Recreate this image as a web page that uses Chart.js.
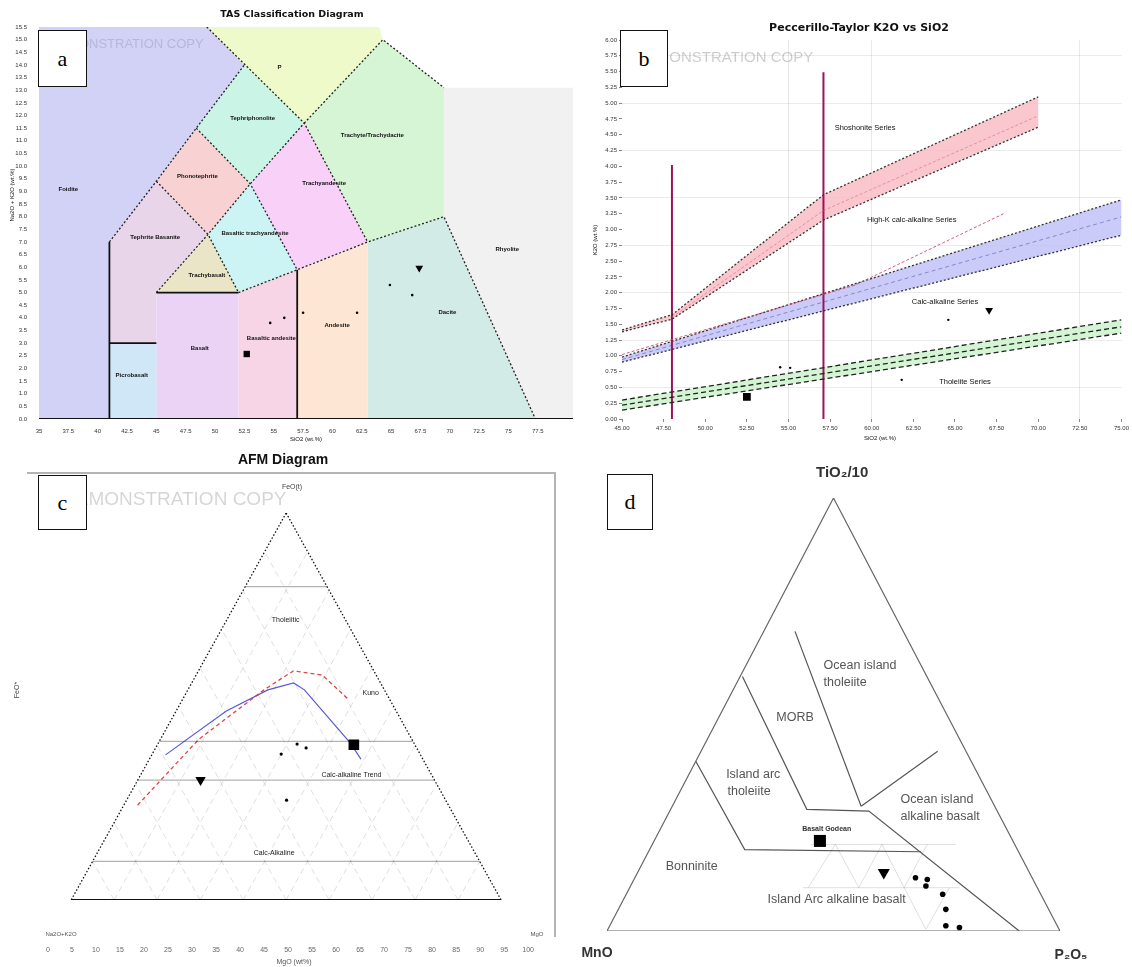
<!DOCTYPE html>
<html>
<head>
<meta charset="utf-8">
<script src="https://cdn.jsdelivr.net/npm/chart.js@4.4.1/dist/chart.umd.min.js"></script>
<style>
  body { margin: 0; background: #fff; }
  #wrap { position: relative; width: 1132px; height: 967px; overflow: hidden; background: #fff; }
  canvas { position: absolute; }
  .tag { position: absolute; box-sizing: border-box; background: #fff; border: 1.5px solid #111;
         font: 22px "Liberation Serif", "DejaVu Serif", serif; display: flex; align-items: center; justify-content: center; }
</style>
</head>
<body>
<div id="wrap">
  <canvas id="tas" width="580" height="445" style="left:0;top:0"></canvas>
  <canvas id="pec" width="552" height="445" style="left:580px;top:0"></canvas>
  <canvas id="afm" width="580" height="522" style="left:0;top:445px"></canvas>
  <canvas id="tmp" width="552" height="522" style="left:580px;top:445px"></canvas>
  <div class="tag" style="left:38px;top:30px;width:49px;height:57px">a</div>
  <div class="tag" style="left:620px;top:30px;width:48px;height:57px">b</div>
  <div class="tag" style="left:38px;top:475px;width:49px;height:55px">c</div>
  <div class="tag" style="left:607px;top:474px;width:46px;height:56px">d</div>
</div>
<script>
Chart.defaults.font.family = '"Liberation Sans", Arial, sans-serif';
Chart.defaults.color = '#333';

// ---------- a: TAS (SiO2, Na2O+K2O) ----------
const tasFoidite = [[35,0],[35,15.5],[49.3,15.5],[52.5,14],[48.4,11.5],[45,9.4],[41,7],[41,0]];
const tasPhonolite = [[49.3,15.5],[64,15.5],[64.3,15],[57.6,11.7],[52.5,14]];
const tasTephriphonolite = [[48.4,11.5],[52.5,14],[57.6,11.7],[53,9.3]];
const tasPhonotephrite = [[45,9.4],[48.4,11.5],[53,9.3],[49.4,7.3]];
const tasTephrite = [[41,3],[41,7],[45,9.4],[49.4,7.3],[45,5],[45,3]];
const tasPicrobasalt = [[41,0],[41,3],[45,3],[45,0]];
const tasBasalt = [[45,0],[45,5],[52,5],[52,0]];
const tasTrachybasalt = [[45,5],[49.4,7.3],[52,5]];
const tasBasTrachyandesite = [[52,5],[49.4,7.3],[53,9.3],[57,5.9]];
const tasTrachyandesite = [[57,5.9],[53,9.3],[57.6,11.7],[63,7]];
const tasTrachyte = [[57.6,11.7],[64.3,15],[69.5,13.1],[69.5,8],[63,7]];
const tasBasAndesite = [[52,0],[52,5],[57,5.9],[57,0]];
const tasAndesite = [[57,0],[57,5.9],[63,7],[63,0]];
const tasDacite = [[63,0],[63,7],[69.5,8],[77.3,0]];
const tasRhyolite = [[69.5,13.1],[80.5,13.1],[80.5,0],[77.3,0],[69.5,8]];

const tasSolid = [[[41,0],[41,7]], [[41,3],[45,3]], [[45,5],[52,5]], [[57,0],[57,5.9]], [[35,0],[80.5,0]]];
const tasDashed = [
  [[41,7],[45,9.4],[48.4,11.5],[52.5,14]],
  [[49.3,15.5],[57.6,11.7],[63,7]],
  [[57.6,11.7],[64.3,15],[69.5,13.1]],
  [[45,9.4],[49.4,7.3],[52,5]],
  [[45,5],[49.4,7.3],[53,9.3],[57.6,11.7]],
  [[48.4,11.5],[53,9.3],[57,5.9]],
  [[52,5],[57,5.9],[63,7],[69.5,8],[77.3,0]]
];
const tasSquare = [[52.7,2.57]];
const tasTriangle = [[67.4,5.97]];
const tasDots = [[64.9,5.3],[66.8,4.9],[62.1,4.2],[57.5,4.2],[55.9,4.0],[54.7,3.8]];
const tasLabels = [
  ['Foidite',37.5,9.1], ['Phonotephrite',48.5,9.6], ['Tephriphonolite',53.2,11.9], ['P',55.5,13.9],
  ['Trachyte/Trachydacite',63.4,11.2], ['Trachyandesite',59.3,9.3], ['Basaltic trachyandesite',53.4,7.35],
  ['Tephrite Basanite',44.9,7.2], ['Trachybasalt',49.3,5.7], ['Basalt',48.7,2.8], ['Picrobasalt',42.9,1.74],
  ['Basaltic andesite',54.8,3.2], ['Andesite',60.4,3.7], ['Dacite',69.8,4.2], ['Rhyolite',74.9,6.7]
];

// ---------- b: Peccerillo-Taylor (SiO2, K2O) ----------
const pecPinkUpper = [[45,1.41],[48,1.65],[57.1,3.55],[70,5.1]];
const pecPinkLower = [[45,1.38],[48,1.58],[57.1,3.15],[70,4.62]];
const pecPinkThin = [[48,1.61],[57.1,3.3],[70,4.8]];
const pecRedDash = [[45,1.02],[59,2.12],[68,3.26]];
const pecBlueUpper = [[45,0.98],[75,3.47]];
const pecBlueMid = [[45,0.94],[75,3.2]];
const pecBlueLower = [[45,0.90],[75,2.91]];
const pecGreenUpper = [[45,0.30],[75,1.57]];
const pecGreenMid = [[45,0.22],[75,1.46]];
const pecGreenLower = [[45,0.14],[75,1.36]];
const pecVerticals = [[[48,0],[48,4.02]], [[57.1,0],[57.1,5.49]]];
const pecSquare = [[52.5,0.35]];
const pecTriangle = [[67.05,1.72]];
const pecDots = [[54.5,0.82],[55.1,0.81],[61.8,0.62],[64.6,1.57]];
const pecGridX = [55, 60, 72.5];
const pecGridY = [0.5, 1.25, 2, 2.75, 3.5, 4.25, 5, 5.75];
const pecLabels = [
  ['Shoshonite Series',59.6,4.6], ['High-K calc-alkaline Series',62.4,3.15],
  ['Calc-alkaline Series',64.4,1.85], ['Tholeiite Series',65.6,0.59]
];

// ---------- c: AFM, compositions as [F, A, M] ----------
const afmGuides = [81, 41, 31, 10];
const afmRed = [[24.5,72.3,3.2],[41.5,49.6,8.9],[54.3,28,17.7],[59.2,18.7,22.1],[58.1,12.5,29.4],[51.9,9.6,38.5]];
const afmBlue = [[37.5,59.3,3.2],[48.8,39.6,11.6],[54.3,27.1,18.6],[56.1,20.2,23.7],[54.3,18.6,27.1],[40.6,14.8,44.6],[36.4,14.4,49.2]];
const afmSquare = [[40.1,14.2,45.7]];
const afmTriangle = [[31.0,54.4,14.6]];
const afmDots = [[37.7,32.3,30.0],[40.3,27.3,32.4],[39.3,25.7,35.0],[25.8,37.0,37.2]];
const afmLabels = [['Tholeiitic',49.5,72.4], ['Calc-alkaline Trend',63.2,32.3], ['Calc-Alkaline',47.1,12.1], ['Kuno',67.2,53.5]];

// ---------- d: TiO2/10 - MnO - P2O5, compositions as [Ti, Mn, P] ----------
const tmpBoninite = [[39.2,60.8,0],[18.8,60.2,21.0],[18.3,21.55,60.15]];
const tmpArcMorb = [[58.8,40.7,0.5],[28.1,41.85,30.05],[27.7,28.35,43.95],[0,9,91]];
const tmpMorbOit = [[69.2,23.9,6.9],[28.8,29.5,41.7]];
const tmpOitOia = [[28.8,29.5,41.7],[41.5,6.25,52.25]];
const tmpGrid = [
  [[20,45,35],[20,13,67]], [[10,51.7,38.3],[10,17.2,72.8]],
  [[10,50.6,39.4],[20,39.6,40.4],[10,39.4,50.6],[20,29.3,50.7],[10,29.4,60.6],[20,19.3,60.7]],
  [[10,29.4,60.6],[0.4,29.4,70.2],[10,19.4,70.6]]
];
const tmpSquare = [[20.8,42.6,36.6]];
const tmpTriangle = [[13.5,32.15,54.35]];
const tmpDots = [[12.3,25.75,61.95],[11.9,23.35,64.75],[10.4,24.4,65.2],[8.5,21.65,69.85],[5.0,22.7,72.3],[1.2,24.6,74.2],[0.8,21.8,77.4]];
const tmpLabels = [
  ['Ocean island',47.8,61.2,'l'], ['tholeiite',47.8,57.3,'l'], ['MORB',41.5,49.2,'c'],
  ['Island arc',26.3,36.2,'l'], ['tholeiite',26.6,32.3,'l'], ['Ocean island',64.8,30.4,'l'],
  ['alkaline basalt',64.8,26.5,'l'], ['Bonninite',18.7,15.0,'c'], ['Island Arc alkaline basalt',50.7,7.3,'c']
];

// ---------- helpers ----------
const xy = pts => pts.map(([x, y]) => ({x, y}));
const afmXY = ([F, A, M]) => [4.83 + 89.54 * (M + F / 2) / 100, F];
const tmpXY = ([T, Mn, P]) => [P + T / 2, T];

function poly(pts, color) {
  return {data: xy([...pts, pts[0]]), showLine: true, fill: 'shape', backgroundColor: color,
          borderWidth: 0, borderColor: 'rgba(0,0,0,0)', pointRadius: 0, order: 3};
}
function seg(pts, color, width, dash) {
  return {data: xy(pts), showLine: true, fill: false, borderColor: color, borderWidth: width,
          borderDash: dash || [], pointRadius: 0, order: 2};
}
function marks(pts, style, r, rot) {
  return {data: xy(pts), showLine: false, pointStyle: style, pointRadius: r, pointRotation: rot || 0,
          pointBackgroundColor: '#000', pointBorderColor: '#000', pointBorderWidth: 0, order: 1};
}

const panelText = {};

const textPlugin = {
  id: 'panelText',
  afterDraw(chart) {
    const items = panelText[chart.canvas.id] || [];
    const ctx = chart.ctx, sx = chart.scales.x, sy = chart.scales.y;
    ctx.save();
    if (chart.canvas.id === 'afm') {
      ctx.strokeStyle = '#b4b4b4';
      ctx.lineWidth = 2;
      ctx.beginPath();
      ctx.moveTo(27, 28); ctx.lineTo(555, 28); ctx.lineTo(555, 492);
      ctx.stroke();
    }
    for (const it of items) {
      const px = it.px !== undefined ? it.px : sx.getPixelForValue(it.x);
      const py = it.py !== undefined ? it.py : sy.getPixelForValue(it.y);
      ctx.save();
      ctx.font = it.font || '6px "Liberation Sans"';
      ctx.fillStyle = it.color || '#111';
      ctx.textAlign = it.align || 'center';
      ctx.textBaseline = 'middle';
      ctx.translate(px, py);
      if (it.rot) ctx.rotate(it.rot);
      ctx.fillText(it.text, 0, 0);
      ctx.restore();
    }
    ctx.restore();
  }
};

function baseOptions(padding) {
  return {
    responsive: false, animation: false, events: [],
    layout: {padding},
    plugins: {legend: {display: false}, tooltip: {enabled: false}, title: {display: false}}
  };
}

// ---------- chart a ----------
const tasRegions = [
  [tasFoidite,'#d2d2f7'], [tasPhonolite,'#eefac9'], [tasTephriphonolite,'#c9f4e6'], [tasPhonotephrite,'#f8d2d2'],
  [tasTephrite,'#e9d5ea'], [tasPicrobasalt,'#cfe7f7'], [tasBasalt,'#ebd3f5'], [tasTrachybasalt,'#e9e5c6'],
  [tasBasTrachyandesite,'#cdf4f4'], [tasTrachyandesite,'#f8d0f8'], [tasTrachyte,'#d5f5d5'], [tasBasAndesite,'#f8d5e6'],
  [tasAndesite,'#fde6d3'], [tasDacite,'#d3ebe6'], [tasRhyolite,'#f1f1f1']
];
panelText.tas = [
  {text: 'TAS Classification Diagram', px: 292, py: 15, font: 'bold 9.5px "DejaVu Sans"'},
  {text: 'DEMONSTRATION COPY', px: 50, py: 44, align: 'left', font: '13px "Liberation Sans"', color: 'rgba(110,110,150,0.28)'},
  {text: 'Na2O + K2O (wt.%)', px: 12, py: 195, rot: -Math.PI / 2, font: '6px "Liberation Sans"'},
  {text: 'SiO2 (wt.%)', px: 306, py: 439, font: '6px "Liberation Sans"'},
  ...tasLabels.map(([t, x, y]) => ({text: t, x, y, font: 'bold 6px "Liberation Sans"'}))
];
new Chart(document.getElementById('tas'), {
  type: 'scatter',
  data: {datasets: [
    ...tasRegions.map(([p, c]) => poly(p, c)),
    ...tasSolid.map(s => seg(s, '#111', 1.8)),
    ...tasDashed.map(s => seg(s, '#222', 1.3, [2, 2])),
    marks(tasSquare, 'rect', 4.5), marks(tasTriangle, 'triangle', 4.5, 180), marks(tasDots, 'circle', 1.3)
  ]},
  options: {
    ...baseOptions({left: 0, right: 7, top: 27, bottom: 0}),
    scales: {
      x: {type: 'linear', min: 35, max: 80.5, grid: {display: false}, border: {display: false},
          afterBuildTicks: s => { s.ticks = s.ticks.filter(t => t.value % 2.5 === 0); },
          afterFit: s => { s.height = 26; },
          ticks: {stepSize: 2.5, autoSkip: false, maxRotation: 0, font: {size: 6}, padding: 1}},
      y: {type: 'linear', min: 0, max: 15.5, grid: {display: false}, border: {display: false},
          afterFit: s => { s.width = 39; },
          ticks: {stepSize: 0.5, autoSkip: false, font: {size: 6}, padding: 4, callback: v => v.toFixed(1)}}
    }
  },
  plugins: [textPlugin]
});

// ---------- chart b ----------
panelText.pec = [
  {text: 'Peccerillo-Taylor K2O vs SiO2', px: 279, py: 28, font: 'bold 11px "DejaVu Sans"'},
  {text: 'DEMONSTRATION COPY', px: 56, py: 58, align: 'left', font: '15px "Liberation Sans"', color: 'rgba(0,0,0,0.2)'},
  {text: 'K2O (wt.%)', px: 15, py: 240, rot: -Math.PI / 2, font: '6px "Liberation Sans"'},
  {text: 'SiO2 (wt.%)', px: 300, py: 438, font: '6px "Liberation Sans"'},
  ...pecLabels.map(([t, x, y]) => ({text: t, x, y, font: '7.5px "Liberation Sans"'}))
];
new Chart(document.getElementById('pec'), {
  type: 'scatter',
  data: {datasets: [
    poly([...pecPinkUpper, ...pecPinkLower.slice().reverse()], 'rgba(250,185,195,0.8)'),
    poly([...pecBlueUpper, ...pecBlueLower.slice().reverse()], 'rgba(190,190,248,0.8)'),
    poly([...pecGreenUpper, ...pecGreenLower.slice().reverse()], 'rgba(205,243,205,0.85)'),
    seg(pecPinkUpper, '#333', 1.3, [2, 2]), seg(pecPinkLower, '#333', 1.3, [2, 2]),
    seg(pecPinkThin, 'rgba(225,90,120,0.7)', 0.8, [3, 2]),
    seg(pecRedDash, 'rgba(215,60,100,0.85)', 1, [3, 2]),
    seg(pecBlueUpper, '#333', 1.3, [2, 2]), seg(pecBlueMid, 'rgba(60,60,160,0.6)', 0.8, [4, 3]),
    seg(pecBlueLower, '#333', 1.3, [2, 2]),
    seg(pecGreenUpper, '#222', 1.3, [5, 3]), seg(pecGreenMid, '#222', 1.3, [5, 3]), seg(pecGreenLower, '#222', 1.3, [5, 3]),
    ...pecVerticals.map(s => seg(s, '#9c1457', 2)),
    marks(pecSquare, 'rect', 5.5), marks(pecTriangle, 'triangle', 4.5, 180), marks(pecDots, 'circle', 1.2)
  ]},
  options: {
    ...baseOptions({left: 0, right: 2, top: 40, bottom: 0}),
    scales: {
      x: {type: 'linear', min: 45, max: 75, border: {display: false},
          grid: {color: c => pecGridX.includes(c.tick && c.tick.value) ? 'rgba(0,0,0,0.09)' : 'rgba(0,0,0,0)',
                 tickColor: '#888', tickLength: 3},
          afterFit: s => { s.height = 26; },
          ticks: {stepSize: 2.5, autoSkip: false, maxRotation: 0, font: {size: 6}, padding: 3, callback: v => v.toFixed(2)}},
      y: {type: 'linear', min: 0, max: 6, border: {display: false},
          grid: {color: c => pecGridY.includes(c.tick && c.tick.value) ? 'rgba(0,0,0,0.08)' : 'rgba(0,0,0,0)',
                 tickColor: '#888', tickLength: 3},
          afterFit: s => { s.width = 42; },
          ticks: {stepSize: 0.25, autoSkip: false, font: {size: 6}, padding: 2, callback: v => v.toFixed(2)}}
    }
  },
  plugins: [textPlugin]
});

// ---------- chart c ----------
const afmGrid = [];
for (let k = 10; k < 100; k += 10) {
  afmGrid.push([[0, 100 - k, k], [100 - k, 0, k]]);   // constant M
  afmGrid.push([[0, k, 100 - k], [100 - k, k, 0]]);   // constant A
}
panelText.afm = [
  {text: 'AFM Diagram', px: 283, py: 15, font: 'bold 14px "Liberation Sans"'},
  {text: 'DEMONSTRATION COPY', px: 62, py: 55, align: 'left', font: '19px "Liberation Sans"', color: 'rgba(0,0,0,0.17)'},
  {text: 'FeO(t)', px: 292, py: 42, font: '7px "Liberation Sans"', color: '#444'},
  {text: 'Na2O+K2O', px: 61, py: 489, font: '6px "Liberation Sans"', color: '#555'},
  {text: 'MgO', px: 537, py: 489, font: '6px "Liberation Sans"', color: '#555'},
  {text: 'MgO (wt%)', px: 294, py: 517, font: '7px "Liberation Sans"', color: '#555'},
  {text: 'FeO*', px: 17, py: 245, rot: -Math.PI / 2, font: '7px "Liberation Sans"', color: '#444'},
  ...afmLabels.map(([t, x, y]) => ({text: t, x, y, font: '7px "Liberation Sans"', color: '#222'}))
];
new Chart(document.getElementById('afm'), {
  type: 'scatter',
  data: {datasets: [
    ...afmGrid.map(s => seg(s.map(afmXY), 'rgba(0,0,0,0.13)', 1, [6, 4])),
    ...afmGuides.map(f => seg([[f, 100 - f, 0], [f, 0, 100 - f]].map(afmXY), 'rgba(0,0,0,0.3)', 1.2)),
    seg([[100, 0, 0], [0, 100, 0]].map(afmXY), '#111', 1.3, [1.5, 2]),
    seg([[100, 0, 0], [0, 0, 100]].map(afmXY), '#111', 1.3, [1.5, 2]),
    seg([[0, 100, 0], [0, 0, 100]].map(afmXY), '#111', 2),
    seg(afmRed.map(afmXY), 'rgba(225,50,50,0.9)', 1.3, [4, 3]),
    seg(afmBlue.map(afmXY), 'rgba(70,70,215,0.9)', 1.2),
    marks(afmSquare.map(afmXY), 'rect', 7.5), marks(afmTriangle.map(afmXY), 'triangle', 6, 180),
    marks(afmDots.map(afmXY), 'circle', 1.6)
  ]},
  options: {
    ...baseOptions({left: 46, right: 37, top: 68, bottom: 0}),
    scales: {
      x: {type: 'linear', min: 0, max: 100, grid: {display: false, drawTicks: false}, border: {display: false},
          afterFit: s => { s.height = 67; },
          ticks: {stepSize: 5, autoSkip: false, maxRotation: 0, font: {size: 7}, color: '#666', padding: 46}},
      y: {type: 'linear', min: 0, max: 100, display: false}
    }
  },
  plugins: [textPlugin]
});

// ---------- chart d ----------
panelText.tmp = [
  {text: 'TiO\u2082/10', x: 51.9, y: 105.8, font: 'bold 15px "Liberation Sans"', color: '#333'},
  {text: 'MnO', px: 17, py: 508, font: 'bold 14px "Liberation Sans"', color: '#333'},
  {text: 'P\u2082O\u2085', px: 491, py: 510, font: 'bold 14px "Liberation Sans"', color: '#333'},
  {text: 'Basalt Godean', x: 48.5, y: 23.5, font: 'bold 7px "Liberation Sans"', color: '#333'},
  ...tmpLabels.map(([t, x, y, a]) => ({text: t, x, y, align: a === 'l' ? 'left' : 'center',
                                       font: '12.5px "Liberation Sans"', color: '#555'}))
];
new Chart(document.getElementById('tmp'), {
  type: 'scatter',
  data: {datasets: [
    ...tmpGrid.map(s => seg(s.map(tmpXY), 'rgba(0,0,0,0.13)', 1)),
    seg([[0, 100, 0], [0, 0, 100], [100, 0, 0], [0, 100, 0]].map(tmpXY), '#666', 1.2),
    seg(tmpBoninite.map(tmpXY), '#555', 1.2),
    seg(tmpArcMorb.map(tmpXY), '#555', 1.2),
    seg(tmpMorbOit.map(tmpXY), '#555', 1.2),
    seg(tmpOitOia.map(tmpXY), '#555', 1.2),
    marks(tmpSquare.map(tmpXY), 'rect', 8.5), marks(tmpTriangle.map(tmpXY), 'triangle', 7, 180),
    marks(tmpDots.map(tmpXY), 'circle', 2.8)
  ]},
  options: {
    ...baseOptions({left: 27, right: 72, top: 53, bottom: 36}),
    scales: {
      x: {type: 'linear', min: 0, max: 100, display: false},
      y: {type: 'linear', min: 0, max: 100, display: false}
    }
  },
  plugins: [textPlugin]
});
</script>
</body>
</html>
